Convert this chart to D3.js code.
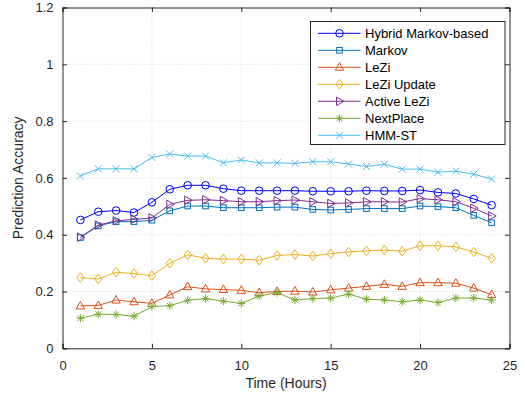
<!DOCTYPE html>
<html>
<head>
<meta charset="utf-8">
<script src="https://cdn.jsdelivr.net/npm/d3@7"></script>
<style>
  body { margin: 0; background: #fff; }
  svg { display: block; font-family: "Liberation Sans", Arial, sans-serif; }
</style>
</head>
<body>
<div id="chart"></div>
<script>
// Data (hours 1..24)
const hours = d3.range(1, 25);
const hybridMarkov = [0.452, 0.481, 0.485, 0.478, 0.514, 0.560, 0.574, 0.574, 0.562, 0.555, 0.555, 0.555,
                      0.555, 0.553, 0.553, 0.553, 0.555, 0.554, 0.554, 0.557, 0.549, 0.545, 0.526, 0.504];
const markov = [0.390, 0.431, 0.446, 0.446, 0.451, 0.484, 0.501, 0.501, 0.495, 0.495, 0.495, 0.497,
                0.497, 0.489, 0.487, 0.489, 0.492, 0.492, 0.492, 0.501, 0.499, 0.495, 0.468, 0.442];
const lezi = [0.149, 0.151, 0.170, 0.164, 0.158, 0.188, 0.217, 0.209, 0.207, 0.204, 0.196, 0.200,
              0.201, 0.198, 0.206, 0.212, 0.218, 0.225, 0.218, 0.231, 0.231, 0.229, 0.212, 0.189];
const leziUpdate = [0.249, 0.244, 0.268, 0.263, 0.256, 0.299, 0.329, 0.317, 0.314, 0.314, 0.310, 0.327,
                    0.330, 0.325, 0.333, 0.339, 0.343, 0.346, 0.342, 0.361, 0.361, 0.357, 0.339, 0.317];
const activeLezi = [0.391, 0.434, 0.449, 0.454, 0.459, 0.507, 0.521, 0.523, 0.520, 0.516, 0.516, 0.520,
                    0.522, 0.516, 0.510, 0.512, 0.516, 0.516, 0.515, 0.527, 0.523, 0.516, 0.493, 0.466];
const nextPlace = [0.106, 0.120, 0.119, 0.113, 0.147, 0.150, 0.169, 0.175, 0.166, 0.158, 0.184, 0.196,
                   0.170, 0.175, 0.177, 0.191, 0.173, 0.170, 0.164, 0.170, 0.161, 0.177, 0.177, 0.170];
const hmmSt = [0.607, 0.632, 0.632, 0.632, 0.672, 0.684, 0.677, 0.677, 0.653, 0.663, 0.653, 0.653,
               0.651, 0.657, 0.657, 0.649, 0.640, 0.648, 0.631, 0.631, 0.620, 0.624, 0.613, 0.596];

const xTicks = [0, 5, 10, 15, 20, 25];
const yTicks = [0, 0.2, 0.4, 0.6, 0.8, 1, 1.2];

const series = [
  {name: "Hybrid Markov-based", values: hybridMarkov, color: "#0000FF", marker: "circle"},
  {name: "Markov", values: markov, color: "#0072BD", marker: "square"},
  {name: "LeZi", values: lezi, color: "#D95319", marker: "triangleUp"},
  {name: "LeZi Update", values: leziUpdate, color: "#EDB120", marker: "diamond"},
  {name: "Active LeZi", values: activeLezi, color: "#7E2F8E", marker: "triangleRight"},
  {name: "NextPlace", values: nextPlace, color: "#77AC30", marker: "star"},
  {name: "HMM-ST", values: hmmSt, color: "#4DBEEE", marker: "cross"}
];

const width = 525, height = 401;
const margin = {top: 7.5, right: 15.5, bottom: 52.7, left: 62.5};
const innerWidth = width - margin.left - margin.right;
const innerHeight = height - margin.top - margin.bottom;
const axisColor = "#262626";

const svg = d3.select("#chart").append("svg")
  .attr("width", width)
  .attr("height", height);

const g = svg.append("g")
  .attr("transform", `translate(${margin.left},${margin.top})`);

const xScale = d3.scaleLinear().domain([0, 25]).range([0, innerWidth]);
const yScale = d3.scaleLinear().domain([0, 1.2]).range([innerHeight, 0]);

// Dotted grid
g.append("g").selectAll("line")
  .data(xTicks.slice(1, -1))
  .join("line")
    .attr("x1", d => xScale(d)).attr("x2", d => xScale(d))
    .attr("y1", 0).attr("y2", innerHeight)
    .attr("stroke", "#d9d9d9").attr("stroke-dasharray", "1,2");
g.append("g").selectAll("line")
  .data(yTicks.slice(1, -1))
  .join("line")
    .attr("y1", d => yScale(d)).attr("y2", d => yScale(d))
    .attr("x1", 0).attr("x2", innerWidth)
    .attr("stroke", "#d9d9d9").attr("stroke-dasharray", "1,2");

// Axes with inward ticks (top/right are mirror axes without labels)
const tickLen = 4.5;
g.append("g")
  .attr("transform", `translate(0,${innerHeight})`)
  .call(d3.axisBottom(xScale).tickValues(xTicks).tickSize(-tickLen).tickPadding(12).tickFormat(d3.format("d")));
g.append("g")
  .call(d3.axisLeft(yScale).tickValues(yTicks).tickSize(-tickLen).tickPadding(9).tickFormat(d => d3.format("~g")(d)));
g.append("g")
  .attr("class", "mirror")
  .call(d3.axisTop(xScale).tickValues(xTicks).tickSize(-tickLen));
g.append("g")
  .attr("class", "mirror")
  .attr("transform", `translate(${innerWidth},0)`)
  .call(d3.axisRight(yScale).tickValues(yTicks).tickSize(-tickLen));
g.selectAll(".mirror text").remove();

g.selectAll(".domain, .tick line").attr("stroke", axisColor);
g.selectAll(".tick text").attr("fill", axisColor).style("font-size", "13px");

// Axis titles
g.append("text")
  .attr("x", innerWidth / 2)
  .attr("y", innerHeight + 40)
  .attr("text-anchor", "middle")
  .attr("fill", axisColor)
  .style("font-size", "14px")
  .text("Time (Hours)");
g.append("text")
  .attr("transform", `translate(${-40},${innerHeight / 2}) rotate(-90)`)
  .attr("text-anchor", "middle")
  .attr("fill", axisColor)
  .style("font-size", "14px")
  .text("Prediction Accuracy");

// Marker drawing
const drawMarker = (sel, type, color) => {
  const common = s => s.attr("fill", "none").attr("stroke", color).attr("stroke-width", 1);
  switch (type) {
    case "circle":
      common(sel.append("circle").attr("r", 3.8)); break;
    case "square":
      common(sel.append("rect").attr("x", -2.8).attr("y", -2.8).attr("width", 5.6).attr("height", 5.6)); break;
    case "triangleUp":
      common(sel.append("path").attr("d", "M0,-4.6L4.2,3L-4.2,3Z")); break;
    case "triangleRight":
      common(sel.append("path").attr("d", "M4.6,0L-3,4.2L-3,-4.2Z")); break;
    case "diamond":
      common(sel.append("path").attr("d", "M0,-4.8L3.6,0L0,4.8L-3.6,0Z")); break;
    case "star":
      common(sel.append("path").attr("d", "M-4,0L4,0M0,-4L0,4M-2.9,-2.9L2.9,2.9M-2.9,2.9L2.9,-2.9")); break;
    case "cross":
      common(sel.append("path").attr("d", "M-3.5,-3.5L3.5,3.5M-3.5,3.5L3.5,-3.5")); break;
  }
};

const line = d3.line()
  .x((d, i) => xScale(hours[i]))
  .y(d => yScale(d));

series.forEach(s => {
  g.append("path")
    .datum(s.values)
    .attr("d", line)
    .attr("fill", "none")
    .attr("stroke", s.color)
    .attr("stroke-width", 1);
  g.append("g").selectAll("g")
    .data(s.values)
    .join("g")
      .attr("transform", (d, i) => `translate(${xScale(hours[i])},${yScale(d)})`)
      .each(function () { drawMarker(d3.select(this), s.marker, s.color); });
});

// Legend
const legend = svg.append("g").attr("transform", "translate(310.5,21.5)");
legend.append("rect")
  .attr("width", 194.5).attr("height", 123)
  .attr("fill", "#fff").attr("stroke", axisColor).attr("stroke-width", 1);
const items = legend.selectAll(".item")
  .data(series)
  .join("g")
    .attr("class", "item")
    .attr("transform", (d, i) => `translate(0,${11.8 + i * 17})`);
items.append("line")
  .attr("x1", 7.5).attr("x2", 50)
  .attr("stroke", d => d.color).attr("stroke-width", 1);
items.append("g")
  .attr("transform", "translate(29,0)")
  .each(function (d) { drawMarker(d3.select(this), d.marker, d.color); });
items.append("text")
  .attr("x", 54.5)
  .attr("dy", "0.35em")
  .attr("fill", "#000")
  .style("font-size", "13px")
  .text(d => d.name);
</script>
</body>
</html>
